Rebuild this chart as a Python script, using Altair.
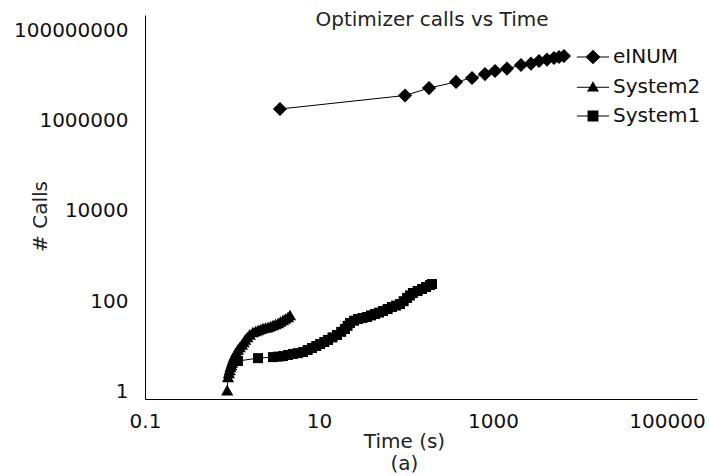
import altair as alt
import pandas as pd

# ---- data ----
series_order = ["eINUM", "System2", "System1"]

einum_t = [3.56, 97.5, 184, 376, 574, 809, 1055, 1449, 2099, 2735, 3380, 4178, 5025, 5741, 6546]
einum_c = [1.79e6, 3.56e6, 5.2e6, 7.1e6, 8.7e6, 1.06e7, 1.24e7, 1.40e7, 1.68e7, 1.81e7,
           2.06e7, 2.22e7, 2.40e7, 2.53e7, 2.66e7]

sys2_t = [0.88, 0.90, 0.92, 0.94, 0.96, 0.98, 1.0, 1.02, 1.05, 1.08,
          1.12, 1.17, 1.23, 1.30, 1.36, 1.42, 1.50, 1.60, 1.74, 1.87,
          1.99, 2.13, 2.27, 2.43, 2.59, 2.77, 2.96, 3.16, 3.38, 3.60,
          3.85, 4.10, 4.40, 4.64]
sys2_c = [1.08, 2.1, 2.6, 3.0, 3.5, 3.9, 4.4, 5.0, 5.8, 6.5,
          7.5, 8.6, 9.7, 11, 12.5, 14.3, 16.1, 18.5, 20.8, 22,
          23.1, 24.3, 25.5, 26.2, 26.9, 28.3, 29.7, 31.3, 33, 35.6,
          38.4, 41.5, 44.7, 49.5]

sys1_t = [1.17, 1.99, 2.96, 3.4, 3.85, 4.4, 5.02, 5.7, 6.55, 7.4,
          8.31, 9.3, 10.3, 11.5, 12.7, 14.3, 16.1, 18.0, 19.9, 21.3,
          22.7, 25.3, 28.1, 31.6, 35.6, 39.6, 44.1, 49.0, 54.4, 61.5,
          69.0, 77.0, 85.3, 94, 103, 111, 120, 136, 153, 170,
          189, 199]
sys1_c = [4.75, 5.5, 5.8, 5.95, 6.1, 6.45, 6.8, 7.1, 7.5, 8.3,
          9.2, 10.2, 11.3, 12.5, 13.9, 15.8, 17.9, 21, 24.3, 28.5,
          33, 37, 40.4, 42.5, 44.7, 48.5, 52.1, 56, 60.7, 67,
          74.5, 80, 86.7, 100, 118, 134, 152, 168, 186, 206,
          228, 240]

x_ticks = [0.1, 10, 1000, 100000]
y_ticks = [1, 100, 10000, 1000000, 100000000]

rows = []
for name, ts, cs in [("eINUM", einum_t, einum_c), ("System2", sys2_t, sys2_c), ("System1", sys1_t, sys1_c)]:
    for i, (t, c) in enumerate(zip(ts, cs)):
        rows.append({"series": name, "t": t, "c": c, "idx": i})
df = pd.DataFrame(rows)

FONT = "DejaVu Sans"

xs = alt.Scale(type="log", domain=[0.1, 221300], nice=False)
ys = alt.Scale(type="log", domain=[0.686, 2.15e8], nice=False)

x_enc = alt.X("t:Q", scale=xs, axis=alt.Axis(
    values=x_ticks, grid=False, ticks=False, domainColor="black", domainWidth=1,
    labelExpr="datum.value < 1 ? '0.1' : format(datum.value, 'd')",
    labelFont=FONT, labelFontSize=20, labelColor="#111", labelPadding=12,
    labelFlush=False, labelOverlap=False,
    title=["Time (s)", "(a)"], titleFont=FONT, titleFontSize=20, titleFontWeight="normal",
    titleColor="#222", titleX=259, titleY=42, titleAlign="center", titleBaseline="middle",
    titleLineHeight=22))
y_enc = alt.Y("c:Q", scale=ys, axis=alt.Axis(
    values=y_ticks, grid=False, ticks=False, domainColor="black", domainWidth=1,
    format="d", labelFont=FONT, labelFontSize=20, labelColor="#111", labelPadding=17,
    labelFlush=False, labelOverlap=False,
    title="# Calls", titleFont=FONT, titleFontSize=20, titleFontWeight="normal",
    titleColor="#222", titleX=-105, titleY=201, titleAngle=-90, titleAlign="center",
    titleBaseline="middle"))

lines = alt.Chart(df).mark_line(color="black", strokeWidth=1).encode(
    x=x_enc, y=y_enc, detail="series:N", order="idx:Q")

points = alt.Chart(df).mark_point(filled=True, color="black", opacity=1).encode(
    x=x_enc, y=y_enc,
    shape=alt.Shape("series:N", scale=alt.Scale(domain=series_order,
                                                range=["diamond", "triangle-up", "square"]), legend=None),
    size=alt.Size("series:N", scale=alt.Scale(domain=series_order, range=[200, 100, 75]), legend=None))

# legend glyphs: a thin filled bar (the line) plus the marker
legend_paths = [
    "M-1.15,-0.04H1.15V0.04H-1.15Z M0,-0.52L0.54,0L0,0.52L-0.54,0Z",
    "M-1.15,0.01H1.15V0.09H-1.15Z M0,-0.38L0.43,0.36L-0.43,0.36Z",
    "M-1.15,-0.04H1.15V0.04H-1.15Z M-0.39,-0.39H0.39V0.39H-0.39Z",
]
legend_layer = alt.Chart(df).transform_filter("false").mark_point(
    filled=True, color="black", opacity=1).encode(
    x=x_enc, y=y_enc,
    shape=alt.Shape("series:N", scale=alt.Scale(domain=series_order, range=legend_paths),
                    legend=alt.Legend(orient="none", legendX=434, legendY=28, title=None,
                                      labelFont=FONT, labelFontSize=20, labelColor="#111",
                                      symbolSize=784, rowPadding=5.5, labelOffset=6, padding=0,
                                      symbolOpacity=1, symbolFillColor="black",
                                      symbolStrokeWidth=0)))

chart = alt.layer(lines, points, legend_layer).resolve_scale(
    shape="independent", size="independent"
).properties(
    width=552, height=384,
    padding={"left": 145, "top": 15, "right": 12, "bottom": 77},
    autosize=alt.AutoSizeParams(type="none"),
    title=alt.TitleParams("Optimizer calls vs Time", font=FONT, fontSize=20, fontWeight="normal",
                          color="#222", anchor="middle", offset=0, dy=31, dx=11,
                          baseline="alphabetic"),
    background="white",
).configure_view(stroke=None)

chart.save("out.html", embed_options={"renderer": "svg", "actions": False})
